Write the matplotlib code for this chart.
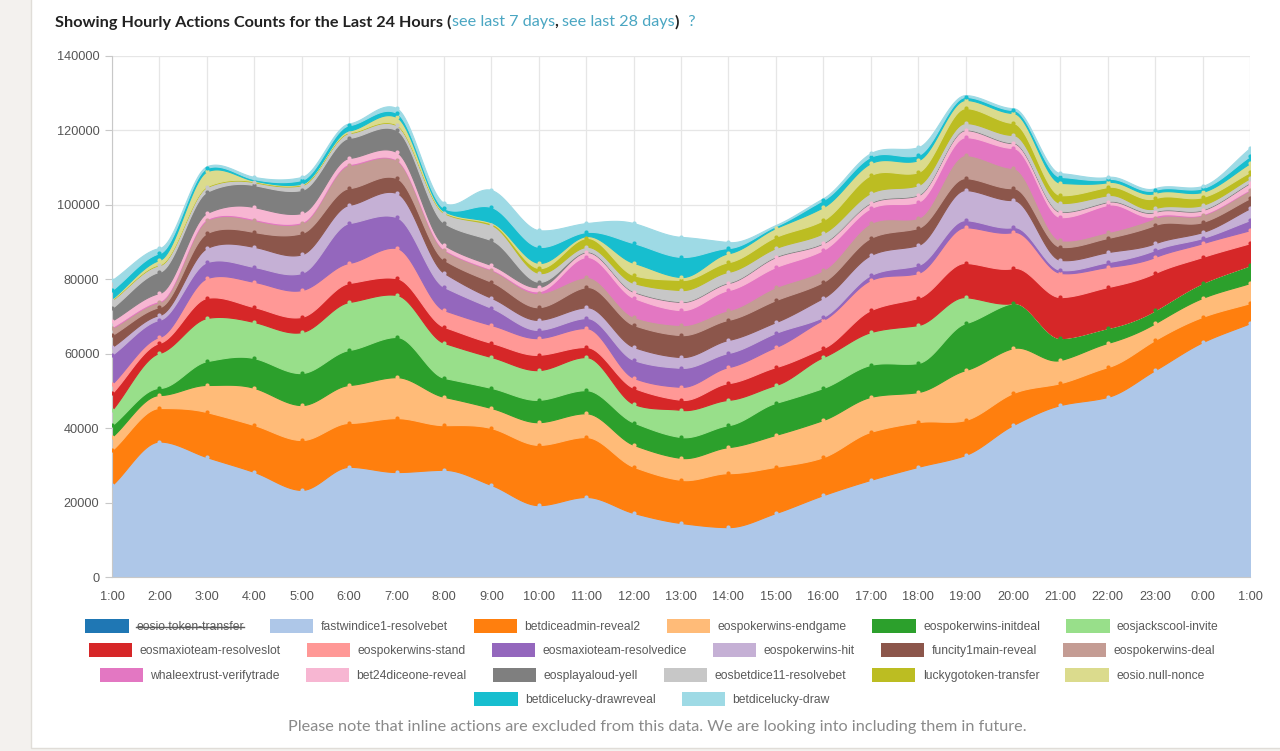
import numpy as np
import matplotlib.pyplot as plt
from matplotlib.patches import Patch, Rectangle
from matplotlib.lines import Line2D

# hourly buckets (last 24 hours)
hours = ['1:00', '2:00', '3:00', '4:00', '5:00', '6:00', '7:00', '8:00', '9:00', '10:00',
         '11:00', '12:00', '13:00', '14:00', '15:00', '16:00', '17:00', '18:00', '19:00',
         '20:00', '21:00', '22:00', '23:00', '0:00', '1:00']

names = ['eosio.token-transfer', 'fastwindice1-resolvebet', 'betdiceadmin-reveal2',
         'eospokerwins-endgame', 'eospokerwins-initdeal', 'eosjackscool-invite',
         'eosmaxioteam-resolveslot', 'eospokerwins-stand', 'eosmaxioteam-resolvedice',
         'eospokerwins-hit', 'funcity1main-reveal', 'eospokerwins-deal',
         'whaleextrust-verifytrade', 'bet24diceone-reveal', 'eosplayaloud-yell',
         'eosbetdice11-resolvebet', 'luckygotoken-transfer', 'eosio.null-nonce',
         'betdicelucky-drawreveal', 'betdicelucky-draw']

# eosio.token-transfer is switched off in the legend, so it has no data drawn
fastwindice = [24700, 36400, 32200, 28200, 23400, 29600, 28200, 28800, 24700, 19300, 21500, 17200, 14500,
               13400, 17200, 22000, 26100, 29600, 32800, 40800, 46200, 48400, 55600, 63100, 68200]
betdiceadmin = [9400, 9000, 12100, 12600, 13400, 11800, 14500, 12000, 15300, 16200, 16100, 12400, 11600,
                14500, 12400, 10200, 12900, 12000, 9400, 8600, 5900, 8000, 8100, 6800, 5400]
endgame = [3600, 3500, 7300, 10000, 9400, 10200, 11000, 7600, 5400, 6100, 6400, 5900, 5900,
           7000, 8600, 10000, 9400, 8100, 13400, 12100, 6200, 6500, 4500, 5100, 5400]
initdeal = [3100, 1900, 6400, 8000, 8600, 9400, 10800, 5100, 5400, 6000, 6200, 6000, 5600,
            5900, 8600, 8600, 8600, 7800, 12600, 12100, 5900, 4000, 3500, 4000, 4800]
invite = [4100, 9400, 11600, 9700, 11000, 12900, 11300, 9400, 8300, 8000, 8900, 5000, 7300,
          6800, 4800, 8300, 8800, 10200, 7000, 0, 0, 0, 0, 0, 0]
resolveslot = [4500, 2700, 5400, 4000, 4100, 5100, 4500, 4300, 3800, 4100, 2700, 4300, 2700,
               4500, 4800, 2400, 5900, 7300, 9200, 9400, 11000, 11000, 10000, 7000, 5900]
stand = [2500, 1600, 5300, 6800, 7200, 5400, 8100, 4500, 4800, 4500, 5100, 2700, 3500,
         4300, 5400, 7600, 8100, 6700, 9600, 9700, 6500, 5400, 4300, 3700, 3500]
resolvedice = [7800, 4600, 4300, 4000, 4600, 10700, 8300, 6200, 4600, 2200, 2700, 4800, 5100,
               3800, 3800, 800, 1300, 2100, 1900, 1300, 800, 1300, 1900, 1400, 2700]
hit = [2100, 1300, 3800, 5400, 5000, 4900, 6500, 3800, 2700, 2700, 2900, 3500, 2900,
       3500, 2900, 5100, 5400, 5400, 8100, 7300, 2700, 2700, 1800, 1600, 3200]
funcity = [3200, 2100, 4000, 4000, 5700, 4500, 4000, 3500, 4300, 3400, 5400, 5900, 5900,
           5400, 5900, 4300, 4600, 4600, 3200, 3200, 3500, 3800, 4900, 2700, 2700]
deal = [1900, 1400, 3500, 3200, 2700, 6200, 4800, 2700, 3200, 3800, 2700, 2200, 2700,
        2600, 3500, 3200, 4000, 2700, 6200, 5400, 1800, 1600, 1900, 1900, 2200]
whaleextrust = [300, 300, 300, 300, 300, 300, 200, 200, 200, 500, 5400, 5100, 4000,
                5400, 5400, 5400, 4000, 4300, 4800, 5400, 6200, 7300, 500, 200, 200]
bet24 = [1700, 2100, 1600, 3200, 2400, 1600, 2000, 1100, 1100, 1100, 1300, 1600, 2200,
         1900, 2700, 1800, 1400, 1800, 1900, 1300, 1400, 800, 1100, 1100, 1700]
yell = [3400, 5700, 5700, 5900, 6200, 5400, 5900, 5900, 6700, 1400, 200, 200, 200,
        200, 200, 200, 200, 200, 200, 200, 200, 200, 200, 200, 200]
betdice11 = [2100, 1800, 1300, 800, 1300, 1300, 1300, 2700, 4100, 2400, 1200, 2200, 3000,
             2800, 2200, 2500, 2500, 2500, 1700, 2000, 2200, 1600, 800, 1200, 1100]
luckygo = [200, 200, 200, 200, 200, 200, 200, 200, 400, 1300, 2400, 2100, 2700,
           2600, 3000, 3500, 4800, 3500, 4000, 3200, 2100, 2200, 2700, 2100, 1600]
nullnonce = [200, 1200, 4000, 200, 200, 500, 2000, 300, 300, 1400, 500, 3300, 800,
             2400, 2400, 3500, 3200, 3200, 2200, 2700, 3300, 1300, 1400, 1400, 2400]
drawreveal = [2300, 1800, 900, 400, 1000, 1400, 1100, 800, 4100, 4300, 1100, 5300, 5400,
              1400, 500, 1900, 1700, 1400, 800, 800, 1600, 800, 800, 1000, 1900]
draw = [2700, 1400, 500, 600, 800, 500, 1300, 1400, 4600, 4500, 2400, 5400, 5400,
        1600, 300, 500, 1000, 2100, 500, 500, 1000, 600, 500, 600, 2200]

series = [fastwindice, betdiceadmin, endgame, initdeal, invite, resolveslot, stand, resolvedice,
          hit, funcity, deal, whaleextrust, bet24, yell, betdice11, luckygo, nullnonce,
          drawreveal, draw]

colors = ['#1f77b4', '#aec7e8', '#ff7f0e', '#ffbb78', '#2ca02c', '#98df8a', '#d62728', '#ff9896',
          '#9467bd', '#c5b0d5', '#8c564b', '#c49c94', '#e377c2', '#f7b6d2', '#7f7f7f', '#c7c7c7',
          '#bcbd22', '#dbdb8d', '#17becf', '#9edae5']


def monotone(x, y, xs):
    # monotone cubic (Fritsch-Carlson), like d3's curveMonotoneX
    x = np.asarray(x, float)
    y = np.asarray(y, float)
    h = np.diff(x)
    d = np.diff(y) / h
    m = np.zeros_like(y)
    m[0], m[-1] = d[0], d[-1]
    for k in range(1, len(y) - 1):
        if d[k - 1] * d[k] > 0:
            w1 = 2 * h[k] + h[k - 1]
            w2 = h[k] + 2 * h[k - 1]
            m[k] = (w1 + w2) / (w1 / d[k - 1] + w2 / d[k])
    i = np.clip(np.searchsorted(x, xs) - 1, 0, len(x) - 2)
    t = (xs - x[i]) / h[i]
    h00 = 2 * t**3 - 3 * t**2 + 1
    h10 = t**3 - 2 * t**2 + t
    h01 = -2 * t**3 + 3 * t**2
    h11 = t**3 - t**2
    return h00 * y[i] + h10 * h[i] * m[i] + h01 * y[i + 1] + h11 * h[i] * m[i + 1]


x = np.arange(len(hours))
xs = np.linspace(0, len(hours) - 1, 600)
smooth = [np.clip(monotone(x, s, xs), 0, None) for s in series]

fig = plt.figure(figsize=(12.8, 7.51), dpi=100)
fig.patch.set_facecolor('#f3f1ee')
fig.patches.append(Rectangle((31 / 1280, 3 / 751), 1.0, 1.0, transform=fig.transFigure,
                             facecolor='white', edgecolor='#e0ddd8', lw=1, zorder=-5))

ax = fig.add_axes([112 / 1280, 1 - 577 / 751, (1250 - 112) / 1280, (577 - 56) / 751])
ax.set_zorder(2)
ax.set_facecolor('white')
polys = ax.stackplot(xs, *smooth, colors=colors[1:], lw=0.8)
for p, c in zip(polys, colors[1:]):
    p.set_edgecolor(c)

# point dots on each stacked boundary (skip series that are ~empty at that hour)
vals = np.array(series, float)
cum = np.cumsum(vals, axis=0)
for v, top, c in zip(vals, cum, colors[1:]):
    keep = v >= 600
    ax.plot(x[keep], top[keep], 'o', ms=3.0, color=c, mec='none', zorder=3)

ax.set_xlim(0, len(hours) - 1)
ax.set_ylim(0, 140000)
ax.set_xticks(x)
ax.set_xticklabels(hours)
ax.set_yticks(np.arange(0, 140001, 20000))
ax.set_yticklabels([str(v) for v in range(0, 140001, 20000)])
ax.set_axisbelow(True)
ax.grid(True, color='#e6e6e6', lw=0.9)
for s in ['top', 'right']:
    ax.spines[s].set_visible(False)
for s in ['left', 'bottom']:
    ax.spines[s].set_color('#c8c8c8')
ax.tick_params(axis='both', labelsize=9.2, labelcolor='#555555', color='#c8c8c8')
ax.tick_params(axis='y', length=5, pad=4)
ax.tick_params(axis='x', length=0, pad=10)
for lab in ax.get_xticklabels() + ax.get_yticklabels():
    lab.set_fontfamily('Liberation Sans')

# title built from pieces (plain text + link-coloured text)
fig.canvas.draw()
renderer = fig.canvas.get_renderer()
pieces = [('Showing Hourly Actions Counts for the Last 24 Hours (', '#222222', 'bold'),
          ('see last 7 days', '#4aa6c2', 'normal'),
          (', ', '#222222', 'bold'),
          ('see last 28 days', '#4aa6c2', 'normal'),
          (')', '#222222', 'bold'),
          ('  ?', '#4aa6c2', 'normal')]
tx = 55
for txt, col, wt in pieces:
    t = fig.text(tx / 1280, 1 - 22 / 751, txt, color=col, fontsize=11.7, fontweight=wt,
                 family='Lato', va='center', ha='left')
    tx = t.get_window_extent(renderer).x1

# legend: four centred rows
rows = [range(0, 6), range(6, 12), range(12, 18), range(18, 20)]
row_y = [626, 650, 675, 699]
legs = []
for r, yy in zip(rows, row_y):
    handles = [Patch(facecolor=colors[i], edgecolor='none') for i in r]
    leg = fig.legend(handles, [names[i] for i in r], loc='center', ncol=len(r),
                     bbox_to_anchor=(652 / 1280, 1 - yy / 751), frameon=False,
                     prop={'family': 'Liberation Sans', 'size': 8.7},
                     handlelength=3.6, handleheight=1.45, handletextpad=0.6,
                     columnspacing=2.15, borderpad=0, borderaxespad=0)
    for t in leg.get_texts():
        t.set_color('#5a5a5a')
    legs.append(leg)

# strike through the disabled series
fig.canvas.draw()
bb = legs[0].get_texts()[0].get_window_extent(renderer)
ym = (bb.y0 + bb.y1) / 2 / fig.bbox.height
fig.lines.append(Line2D([bb.x0 / fig.bbox.width, bb.x1 / fig.bbox.width], [ym, ym],
                        transform=fig.transFigure, color='#5a5a5a', lw=1))

fig.text(657 / 1280, 1 - 727 / 751,
         'Please note that inline actions are excluded from this data. We are looking into including them in future.',
         ha='center', va='center', fontsize=11.7, color='#8a8a8a', family='Lato')

fig.savefig('out.png', dpi=100, facecolor=fig.get_facecolor())
